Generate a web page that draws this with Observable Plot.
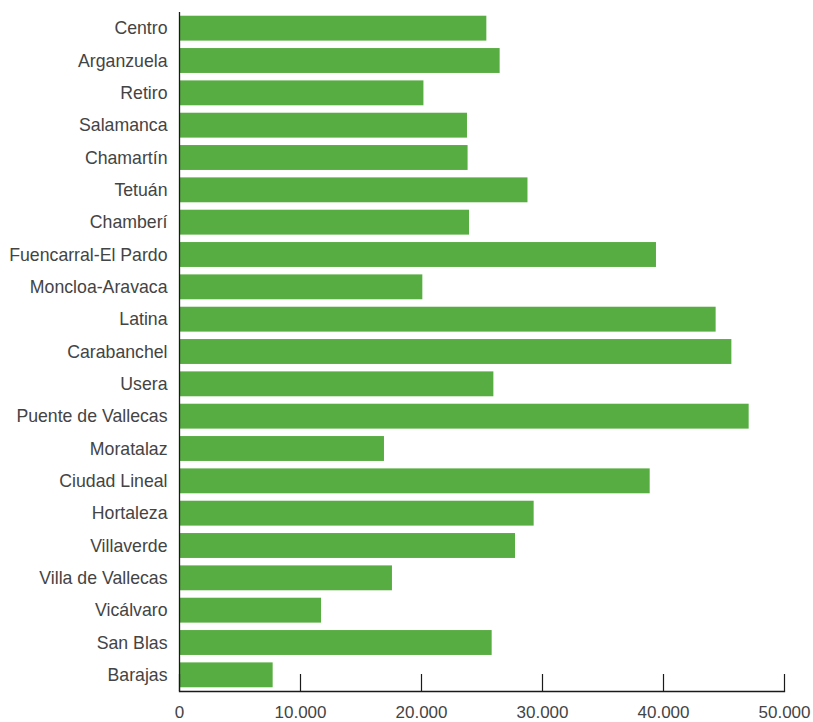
<!DOCTYPE html>
<html>
<head>
<meta charset="utf-8">
<script src="https://cdn.jsdelivr.net/npm/d3@7"></script>
<script src="https://cdn.jsdelivr.net/npm/@observablehq/plot@0.6"></script>
<style>
  html, body { margin: 0; padding: 0; background: #fff; }
  #chart svg { display: block; }
</style>
</head>
<body>
<div id="chart"></div>
<script>
const districts = [
  "Centro", "Arganzuela", "Retiro", "Salamanca", "Chamartín", "Tetuán", "Chamberí",
  "Fuencarral-El Pardo", "Moncloa-Aravaca", "Latina", "Carabanchel", "Usera",
  "Puente de Vallecas", "Moratalaz", "Ciudad Lineal", "Hortaleza", "Villaverde",
  "Villa de Vallecas", "Vicálvaro", "San Blas", "Barajas"
];
const values = [
  25400, 26500, 20200, 23800, 23850, 28800, 23970,
  39420, 20110, 44350, 45650, 25980,
  47080, 16940, 38900, 29310, 27770,
  17600, 11740, 25840, 7740
];
const xTicks = [0, 10000, 20000, 30000, 40000, 50000];

const data = districts.map((d, i) => ({district: d, value: values[i]}));
const fmt = v => d3.format(",")(v).replace(/,/g, ".");

const chart = Plot.plot({
  width: 813,
  height: 722,
  marginTop: 12,
  marginBottom: 31,
  marginLeft: 179,
  marginRight: 29,
  style: {fontFamily: "'Liberation Sans', Arial, Helvetica, sans-serif", fontSize: "17.7px", color: "#444", background: "#fff"},
  x: {domain: [0, 50000]},
  y: {domain: districts, paddingInner: 0.23, paddingOuter: 0.115, round: false},
  marks: [
    Plot.barX(data, {x: "value", y: "district", fill: "#58ad42"}),
    Plot.gridX(xTicks, {stroke: "#1a1a1a", strokeOpacity: 1, strokeWidth: 1.2, insetTop: 662}),
    Plot.ruleX([0], {stroke: "#1a1a1a", strokeWidth: 1.3}),
    Plot.frame({anchor: "bottom", stroke: "#1a1a1a", strokeWidth: 1.3}),
    Plot.axisX(xTicks, {tickSize: 0, tickPadding: 14, tickFormat: fmt, fill: "#444", fontSize: 17, label: null}),
    Plot.axisY({tickSize: 0, tickPadding: 12, fill: "#444", label: null})
  ]
});
document.getElementById("chart").appendChild(chart);
</script>
</body>
</html>
